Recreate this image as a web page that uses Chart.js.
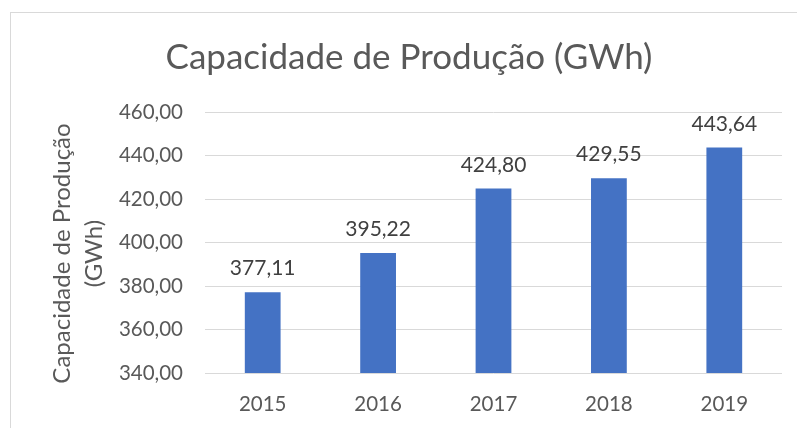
<!DOCTYPE html>
<html><head><meta charset="utf-8">
<script src="https://cdn.jsdelivr.net/npm/chart.js@4/dist/chart.umd.min.js"></script>
<style>
html,body{margin:0;padding:0;background:#fff;overflow:hidden}
#frame{position:absolute;left:10px;top:12px;width:800px;height:430px;border:1px solid #d9d9d9;box-sizing:border-box}
#wrap{position:absolute;left:0;top:0;width:797px;height:428px}
</style></head>
<body>
<div id="frame"></div>
<div id="wrap"><canvas id="c" width="797" height="428"></canvas></div>
<script>
const categories = ['2015','2016','2017','2018','2019'];
const values = [377.11, 395.22, 424.80, 429.55, 443.64];
const chartTitle = 'Capacidade de Produção (GWh)';
const yTitle = ['Capacidade de Produção', '(GWh)'];
const FONT = 'Lato, "Open Sans", sans-serif';
const fmt = v => v.toFixed(2).replace('.', ',');

const labelPlugin = {
  id: 'barLabels',
  afterDatasetsDraw(chart) {
    const ctx = chart.ctx;
    const meta = chart.getDatasetMeta(0);
    ctx.save();
    ctx.font = '21px ' + FONT;
    ctx.fillStyle = '#404040';
    ctx.textAlign = 'center';
    ctx.textBaseline = 'alphabetic';
    meta.data.forEach((bar, i) => {
      ctx.fillText(fmt(values[i]), bar.x, bar.y - 17);
    });
    ctx.restore();
  }
};

const yTitlePlugin = {
  id: 'yTitle',
  afterDraw(chart) {
    const ctx = chart.ctx, a = chart.chartArea;
    const cy = (a.top + a.bottom) / 2 + 11;
    ctx.save();
    ctx.font = '24px ' + FONT;
    ctx.fillStyle = '#595959';
    ctx.textAlign = 'center';
    ctx.textBaseline = 'middle';
    yTitle.forEach((line, i) => {
      ctx.save();
      ctx.translate(a.left - 143 + i * 32, cy);
      ctx.rotate(-Math.PI / 2);
      ctx.fillText(line, 0, 0);
      ctx.restore();
    });
    ctx.restore();
  }
};

new Chart(document.getElementById('c'), {
  type: 'bar',
  data: {
    labels: categories,
    datasets: [{ data: values, backgroundColor: '#4472C4', categoryPercentage: 1, barPercentage: 0.31 }]
  },
  options: {
    responsive: false,
    animation: false,
    layout: { padding: { left: 36, right: 15, top: 0, bottom: 11 } },
    plugins: {
      legend: { display: false },
      tooltip: { enabled: false },
      title: {
        display: true, text: chartTitle, color: '#595959',
        font: { family: FONT, size: 35, weight: 'normal', lineHeight: 1.2 },
        padding: { top: 37, bottom: 33 }
      }
    },
    scales: {
      x: {
        afterFit(scale) { scale.height = 44; },
        grid: { display: false, drawTicks: false },
        border: { display: false },
        ticks: { color: '#595959', font: { family: FONT, size: 20.5 }, padding: 19 }
      },
      y: {
        min: 340, max: 460,
        afterFit(scale) { scale.width = 169; },
        grid: { color: '#d9d9d9', drawTicks: false },
        border: { display: false },
        ticks: { stepSize: 20, color: '#595959', font: { family: FONT, size: 20.5 }, padding: 22,
          callback: v => fmt(v) }
      }
    }
  },
  plugins: [labelPlugin, yTitlePlugin]
});
</script>
</body></html>
